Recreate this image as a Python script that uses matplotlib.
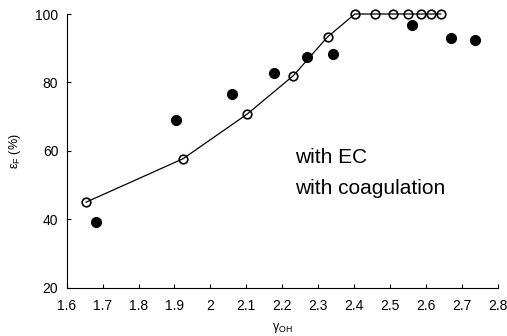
import matplotlib
matplotlib.use('Agg')
import matplotlib.pyplot as plt

plt.rcParams['font.family'] = ['Liberation Sans', 'DejaVu Sans']
plt.rcParams['mathtext.fontset'] = 'custom'
plt.rcParams['mathtext.rm'] = 'Liberation Sans'
plt.rcParams['mathtext.it'] = 'Liberation Sans:italic'

# with EC (open circles, joined by line)
ec_x = [1.654, 1.924, 2.103, 2.231, 2.326, 2.402, 2.458, 2.507, 2.551, 2.585, 2.614, 2.641]
ec_y = [45.0, 57.7, 70.8, 82.0, 93.3, 100, 100, 100, 100, 100, 100, 100]

# with coagulation (filled circles)
coag_x = [1.683, 1.903, 2.060, 2.176, 2.268, 2.340, 2.560, 2.670, 2.737]
coag_y = [39.1, 69.0, 76.5, 82.7, 87.5, 88.3, 96.7, 93.0, 92.4]

x_ticks = [1.6, 1.7, 1.8, 1.9, 2.0, 2.1, 2.2, 2.3, 2.4, 2.5, 2.6, 2.7, 2.8]
x_labels = ['1.6', '1.7', '1.8', '1.9', '2', '2.1', '2.2', '2.3', '2.4', '2.5', '2.6', '2.7', '2.8']
y_ticks = [20, 40, 60, 80, 100]

fig = plt.figure(figsize=(5.07, 3.36), dpi=100)
ax = fig.add_axes([0.1315, 0.1438, 0.8505, 0.8145])

ax.plot(ec_x, ec_y, color='black', lw=0.9, marker='o', markersize=6.2,
        markerfacecolor='none', markeredgecolor='black', markeredgewidth=1.2,
        clip_on=False)
ax.plot(coag_x, coag_y, linestyle='none', marker='o', markersize=7,
        color='black', clip_on=False)

ax.set_xlim(1.6, 2.8)
ax.set_ylim(20, 100)
ax.set_xticks(x_ticks)
ax.set_xticklabels(x_labels)
ax.set_yticks(y_ticks)
ax.tick_params(direction='in', length=3, width=0.8, labelsize=10, colors='black')
ax.tick_params(axis='x', pad=8)
ax.tick_params(axis='y', pad=6)
for s in ['top', 'right']:
    ax.spines[s].set_visible(False)
for s in ['left', 'bottom']:
    ax.spines[s].set_linewidth(0.8)

ax.set_xlabel('γ$_{\\mathrm{OH}}$', fontsize=9, labelpad=6)
ax.set_ylabel('ε$_{\\mathrm{F}}$ (%)', fontsize=9, labelpad=9)

ax.text(2.235, 58, 'with EC', fontsize=15, va='center', ha='left')
ax.text(2.235, 49, 'with coagulation', fontsize=15, va='center', ha='left')

fig.savefig('out.png', dpi=100)
